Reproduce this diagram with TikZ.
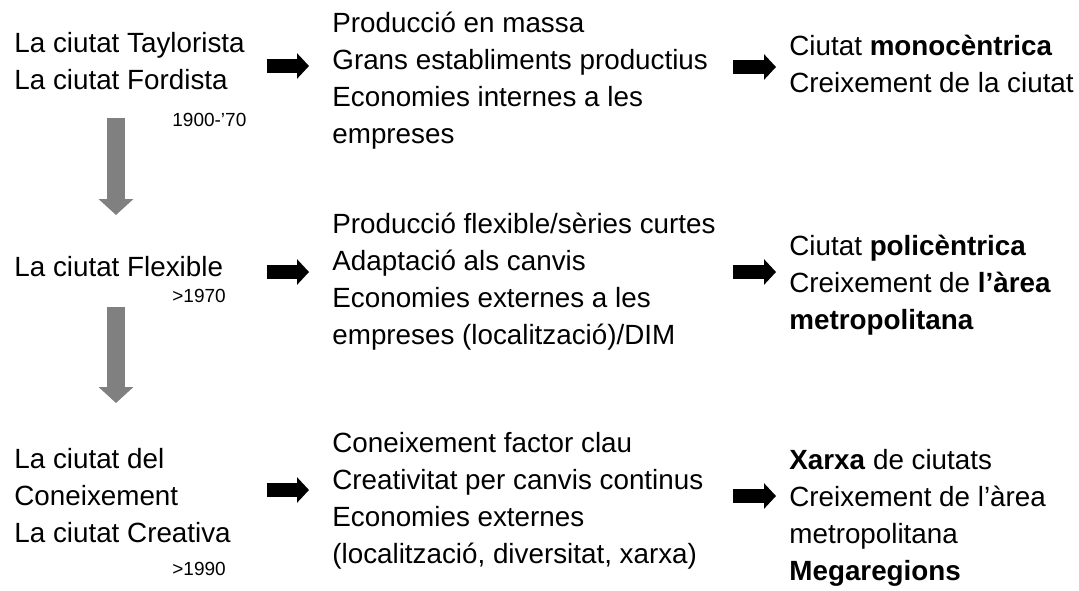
\documentclass[tikz,border=0pt]{standalone}
\usepackage{fontspec}
\setmainfont{Liberation Sans}
\usetikzlibrary{arrows.meta}

\begin{document}
\begin{tikzpicture}[x=0.5pt,y=-0.5pt]
        \tikzstyle{main}=[anchor=base west, inner sep=0pt, align=left, font=\fontsize{13.9}{18.5}\selectfont]
        \tikzstyle{year}=[anchor=base west, inner sep=0pt, font=\fontsize{9.5}{11}\selectfont]
        \tikzstyle{push}=[line width=7pt, -{Triangle[width=12.5pt,length=6pt]}]
        \tikzstyle{down}=[line width=9pt, draw=black!50, -{Triangle[width=17pt,length=8pt]}]
        \useasboundingbox (0,0) rectangle (1079,590);
        % left column (placed at the baseline of the last line)
        \node [main] (fordista) at (14,89) {La ciutat Taylorista\\La ciutat Fordista};
        \node [year] (y1900) at (172,126) {1900-’70};
        \node [main] (flexible) at (14,276) {La ciutat Flexible};
        \node [year] (y1970) at (172,302) {>1970};
        \node [main] (creativa) at (14,542) {La ciutat del\\Coneixement\\La ciutat Creativa};
        \node [year] (y1990) at (172,575) {>1990};
        % middle column
        \node [main] (massa) at (332,143) {Producció en massa\\Grans establiments productius\\Economies internes a les\\empreses};
        \node [main] (series) at (332,344) {Producció flexible/sèries curtes\\Adaptació als canvis\\Economies externes a les\\empreses (localització)/DIM};
        \node [main] (clau) at (332,563) {Coneixement factor clau\\Creativitat per canvis continus\\Economies externes\\(localització, diversitat, xarxa)};
        % right column
        \node [main] (mono) at (789,92) {Ciutat \textbf{monocèntrica}\\Creixement de la ciutat};
        \node [main] (poli) at (789,329) {Ciutat \textbf{policèntrica}\\Creixement de \textbf{l’àrea}\\\textbf{metropolitana}};
        \node [main] (xarxa) at (789,580) {\textbf{Xarxa} de ciutats\\Creixement de l’àrea\\metropolitana\\\textbf{Megaregions}};
        % arrow ends
        \coordinate (p1a) at (267,66);  \coordinate (p1b) at (309,66);
        \coordinate (p2a) at (267,272); \coordinate (p2b) at (309,272);
        \coordinate (p3a) at (267,490); \coordinate (p3b) at (309,490);
        \coordinate (q1a) at (733,67);  \coordinate (q1b) at (776,67);
        \coordinate (q2a) at (733,272); \coordinate (q2b) at (776,272);
        \coordinate (q3a) at (733,496); \coordinate (q3b) at (776,496);
        \coordinate (d1a) at (116,118); \coordinate (d1b) at (116,215);
        \coordinate (d2a) at (116,307); \coordinate (d2b) at (116,403);
        \draw [push] (p1a) -- (p1b);
        \draw [push] (p2a) -- (p2b);
        \draw [push] (p3a) -- (p3b);
        \draw [push] (q1a) -- (q1b);
        \draw [push] (q2a) -- (q2b);
        \draw [push] (q3a) -- (q3b);
        \draw [down] (d1a) -- (d1b);
        \draw [down] (d2a) -- (d2b);
\end{tikzpicture}
\end{document}
